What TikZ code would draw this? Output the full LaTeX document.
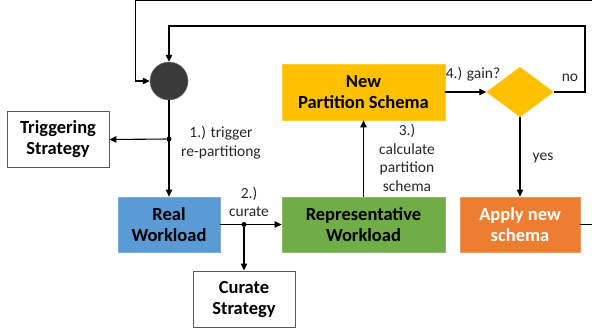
\documentclass[tikz,border=0pt]{standalone}
\usepackage{fontspec}
\setmainfont{Carlito}
\usetikzlibrary{arrows.meta,shapes.geometric}
\definecolor{cblue}{HTML}{5B9BD5}
\definecolor{cgreen}{HTML}{70AD47}
\definecolor{cgold}{HTML}{FFC000}
\definecolor{corange}{HTML}{ED7D31}
\definecolor{cdark}{HTML}{3A3A3A}
\definecolor{ctext}{HTML}{262626}
\begin{document}
\begin{tikzpicture}[x=1pt,y=-1pt,
  box/.style={draw=#1!80!white,fill=#1,line width=0.8pt,inner sep=0pt,align=center,
    font=\fontsize{18.5}{21}\selectfont\bfseries},
  wbox/.style={draw=black!65,fill=white,line width=0.9pt,inner sep=0pt,align=center,
    font=\fontsize{18.5}{21}\selectfont\bfseries,minimum width=102pt,minimum height=56pt},
  lbl/.style={text=ctext,align=center,inner sep=0pt,font=\fontsize{15.5}{18.7}\selectfont},
  arr/.style={-{Triangle[length=7pt,width=6.5pt]},line width=1.1pt},
  dot/.style={circle,fill=black,inner sep=0pt,minimum size=5pt}]
\useasboundingbox (0,0) rectangle (592,332);
% nodes
\node[circle,fill=cdark,draw=cdark!70!white,line width=0.5pt,minimum size=38pt,inner sep=0pt] (c) at (169,81) {};
\node[wbox] (trig) at (58,139.5) {Triggering\\Strategy};
\node[box=cblue,minimum width=102pt,minimum height=55pt] (real) at (169,224.5) {Real\\Workload};
\node[box=cgreen,minimum width=163pt,minimum height=55pt] (rep) at (363.5,224.5) {Representative\\Workload};
\node[box=cgold,minimum width=163pt,minimum height=56pt] (nps) at (363.5,92) {New\\Partition Schema};
\node[diamond,fill=cgold,draw=cgold!80!white,line width=0.5pt,minimum width=67pt,minimum height=50pt,inner sep=0pt] (dia) at (520,92) {};
\node[box=corange,text=white,minimum width=120pt,minimum height=55pt] (apply) at (520,224.5) {Apply new\\schema};
\node[wbox] (cur) at (244,299) {Curate\\Strategy};
\node[dot] (d1) at (169,139) {};
\node[dot] (d2) at (244,224.5) {};
\coordinate (n1) at (585,92);
\coordinate (n2) at (585,26);
\coordinate (t1) at (610,224.5);
\coordinate (t2) at (610,0.8);
\coordinate (t3) at (135.5,0.8);
% connectors
\draw[arr] (c.south) -- (real.north);
\draw[arr] (d1) -- (trig.east);
\draw[arr] (real.east) -- (rep.west);
\draw[arr] (d2) -- (cur.north);
\draw[arr] (rep.north) -- (nps.south);
\draw[arr] (nps.east) -- (dia.west);
\draw[arr] (dia.south) -- (apply.north);
\draw[arr] (dia.east) -- (n1) -- (n2) -| (c.north);
\draw[arr] (apply.east) -- (t1) -- (t2) -- (t3) |- (c.west);
% labels
\node[lbl] (l1) at (221,142.5) {1.) trigger\\re-partitiong};
\node[lbl] (l2) at (249,202) {2.)\\curate};
\node[lbl] (l3) at (407,158) {3.)\\calculate\\partition\\schema};
\node[lbl] (l4) at (473,74) {4.) gain?};
\node[lbl] (l5) at (570,78) {no};
\node[lbl] (l6) at (543,158) {yes};
\end{tikzpicture}
\end{document}
